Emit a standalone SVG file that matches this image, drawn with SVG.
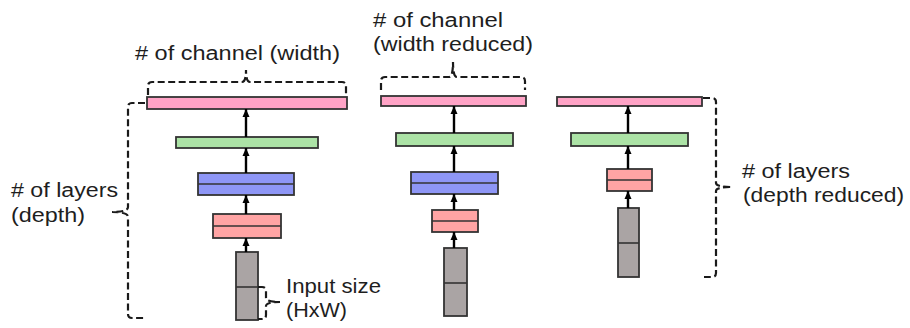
<svg xmlns="http://www.w3.org/2000/svg" width="910" height="328" viewBox="0 0 910 328">
<style>
  .box { stroke: #333; stroke-width: 1.8; }
  .pink { fill: #ffa3c6; }
  .green { fill: #ace3a6; }
  .blue { fill: #8e96f6; }
  .red { fill: #ffa4a4; }
  .gray { fill: #aaa4a4; }
  .div { stroke: #333; stroke-width: 1.6; fill: none; }
  .arrow { stroke: #000; stroke-width: 2.4; fill: none; marker-end: url(#ah); }
  .brace { stroke: #1a1a1a; stroke-width: 2.2; fill: none; stroke-dasharray: 7 3.5; }
  .lbl { font-family: "Liberation Sans", Arial, sans-serif; font-size: 20px; fill: #1e1e1e; }
</style>
<defs>
  <marker id="ah" markerUnits="userSpaceOnUse" markerWidth="8" markerHeight="8" viewBox="0 0 8 8" refX="8" refY="4" orient="auto">
    <path d="M0,0.5 L8,4 L0,7.5 Z" fill="#000"/>
  </marker>
</defs>

<!-- Column 1 -->
<g id="c1-pink"><rect class="box pink" x="147" y="97" width="200" height="12"/></g>
<g id="c1-green"><rect class="box green" x="176" y="137" width="142" height="11"/></g>
<g id="c1-blue"><rect class="box blue" x="198" y="173" width="96" height="22"/><line class="div" x1="198" y1="184" x2="294" y2="184"/></g>
<g id="c1-red"><rect class="box red" x="213" y="214" width="68" height="24"/><line class="div" x1="213" y1="226" x2="281" y2="226"/></g>
<g id="c1-input"><rect class="box gray" x="236" y="252" width="22" height="68"/><line class="div" x1="236" y1="287" x2="258" y2="287"/></g>

<!-- Column 2 -->
<g id="c2-pink"><rect class="box pink" x="381" y="96" width="145" height="10"/></g>
<g id="c2-green"><rect class="box green" x="396" y="133" width="117" height="13"/></g>
<g id="c2-blue"><rect class="box blue" x="411" y="172" width="87" height="22"/><line class="div" x1="411" y1="183" x2="498" y2="183"/></g>
<g id="c2-red"><rect class="box red" x="432" y="210" width="46" height="22"/><line class="div" x1="432" y1="221" x2="478" y2="221"/></g>
<g id="c2-input"><rect class="box gray" x="444" y="248" width="23" height="68"/><line class="div" x1="444" y1="283" x2="467" y2="283"/></g>

<!-- Column 3 -->
<g id="c3-pink"><rect class="box pink" x="557" y="97" width="145" height="9"/></g>
<g id="c3-green"><rect class="box green" x="571" y="133" width="117" height="13"/></g>
<g id="c3-red"><rect class="box red" x="607" y="169" width="45" height="22"/><line class="div" x1="607" y1="180" x2="652" y2="180"/></g>
<g id="c3-input"><rect class="box gray" x="618" y="208" width="21" height="69"/><line class="div" x1="618" y1="243" x2="639" y2="243"/></g>

<!-- Connectors -->
<g id="connectors">
  <line class="arrow" x1="246" y1="252" x2="246" y2="238"/>
  <line class="arrow" x1="246" y1="214" x2="246" y2="195"/>
  <line class="arrow" x1="246" y1="173" x2="246" y2="148"/>
  <line class="arrow" x1="246" y1="137" x2="246" y2="109"/>
  <line class="arrow" x1="454" y1="248" x2="454" y2="232"/>
  <line class="arrow" x1="454" y1="210" x2="454" y2="194"/>
  <line class="arrow" x1="454" y1="172" x2="454" y2="146"/>
  <line class="arrow" x1="454" y1="133" x2="454" y2="106"/>
  <line class="arrow" x1="628" y1="208" x2="628" y2="191"/>
  <line class="arrow" x1="628" y1="169" x2="628" y2="146"/>
  <line class="arrow" x1="628" y1="133" x2="628" y2="106"/>
</g>

<!-- Braces -->
<g id="braces">
  <path class="brace" d="M148,95 V86 Q148,82 152,82 H242 Q246,82 246,70 Q246,82 250,82 H342 Q346,82 346,86 V95"/>
  <path class="brace" d="M381,90 V81 Q381,77 385,77 H449 Q453,77 453,62 Q453,77 457,77 H521 Q525,77 525,81 V90"/>
  <path class="brace" d="M145,103 H132 Q128,103 128,107 V207 Q128,212 112,212 Q128,212 128,217 V314 Q128,318 132,318 H146"/>
  <path class="brace" d="M258,287 H262 Q266,287 266,291 V298 Q266,302 280,302 Q266,302 266,306 V315 Q266,319 262,319 H258"/>
  <path class="brace" d="M703,98 H712 Q716,98 716,102 V183 Q716,187 732,187 Q716,187 716,191 V273 Q716,277 712,277 H704"/>
</g>

<!-- Labels -->
<g id="label-width">
  <text class="lbl" x="135" y="60" textLength="205" lengthAdjust="spacingAndGlyphs"># of channel (width)</text>
</g>
<g id="label-width-reduced">
  <text class="lbl" x="373" y="27" textLength="130" lengthAdjust="spacingAndGlyphs"># of channel</text>
  <text class="lbl" x="373" y="51" textLength="160" lengthAdjust="spacingAndGlyphs">(width reduced)</text>
</g>
<g id="label-depth">
  <text class="lbl" x="11" y="197" textLength="107" lengthAdjust="spacingAndGlyphs"># of layers</text>
  <text class="lbl" x="11" y="222" textLength="74" lengthAdjust="spacingAndGlyphs">(depth)</text>
</g>
<g id="label-input">
  <text class="lbl" x="286" y="293" textLength="95" lengthAdjust="spacingAndGlyphs">Input size</text>
  <text class="lbl" x="286" y="317" textLength="61" lengthAdjust="spacingAndGlyphs">(HxW)</text>
</g>
<g id="label-depth-reduced">
  <text class="lbl" x="742" y="178" textLength="108" lengthAdjust="spacingAndGlyphs"># of layers</text>
  <text class="lbl" x="743" y="202" textLength="161" lengthAdjust="spacingAndGlyphs">(depth reduced)</text>
</g>
</svg>
